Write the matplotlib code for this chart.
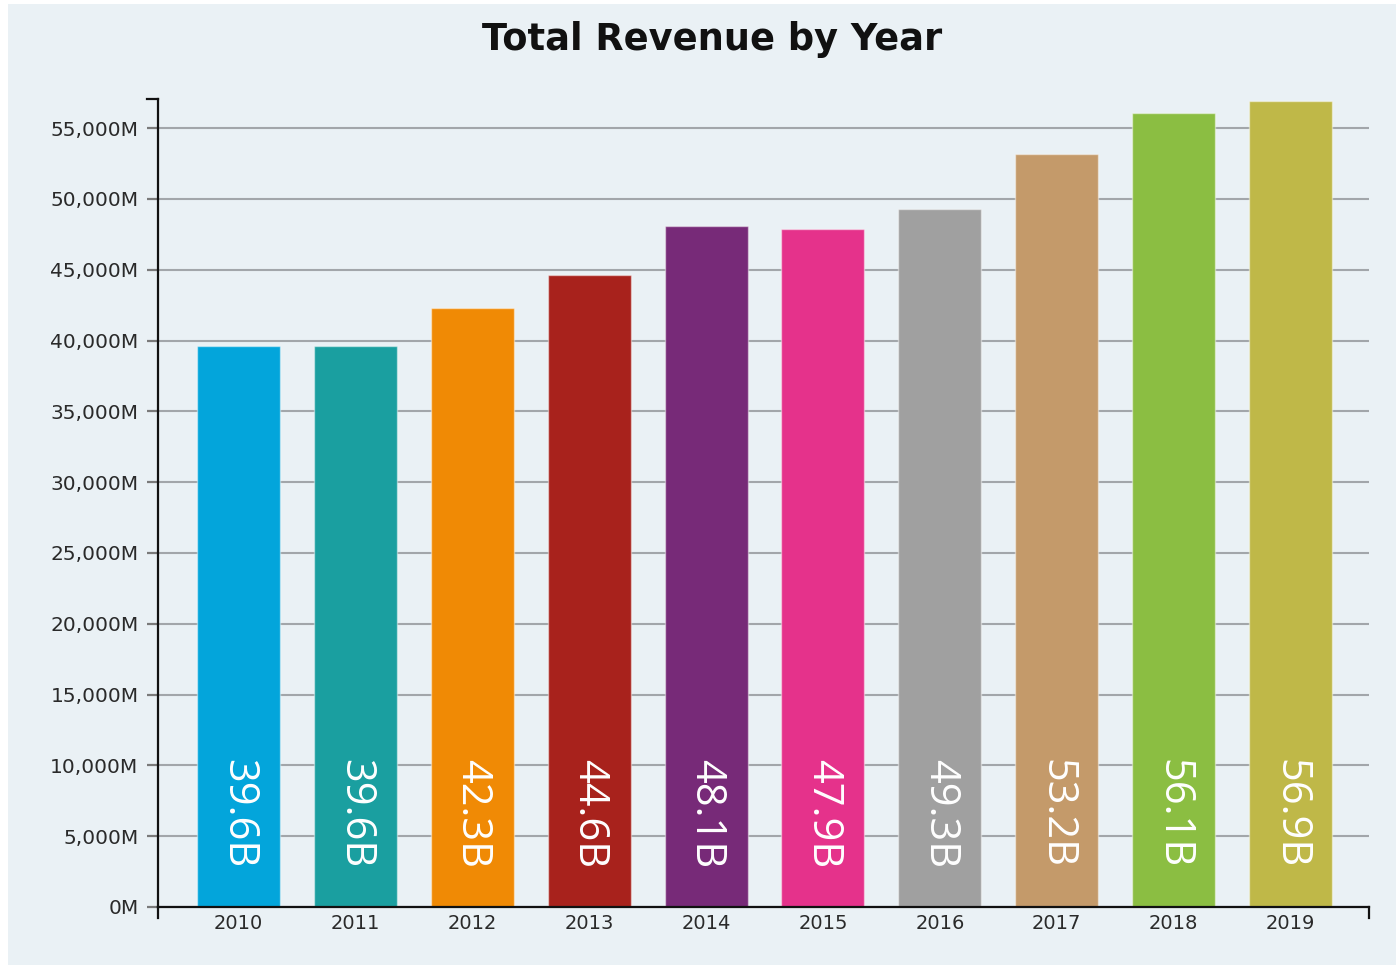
import matplotlib
matplotlib.use("Agg")
import matplotlib.pyplot as plt
from matplotlib.patches import Rectangle
from matplotlib.lines import Line2D

years = ["2010", "2011", "2012", "2013", "2014", "2015", "2016", "2017", "2018", "2019"]
revenue_m = [39600, 39600, 42300, 44600, 48100, 47900, 49300, 53200, 56100, 56900]
bar_labels = ["39.6B", "39.6B", "42.3B", "44.6B", "48.1B", "47.9B", "49.3B", "53.2B", "56.1B", "56.9B"]
colors = ["#03A5DB", "#1A9FA0", "#F08A05", "#A8221C", "#772A78",
          "#E5328B", "#A0A0A0", "#C49A6A", "#8BBE42", "#BFB848"]
yticks = [0, 5000, 10000, 15000, 20000, 25000, 30000, 35000, 40000, 45000, 50000, 55000]
ytick_labels = ["0M", "5,000M", "10,000M", "15,000M", "20,000M", "25,000M", "30,000M",
                "35,000M", "40,000M", "45,000M", "50,000M", "55,000M"]

W, H = 1396, 965
fig = plt.figure(figsize=(W / 100, H / 100), dpi=100, facecolor="white")
panel_color = "#EAF1F5"
fig.patches.append(Rectangle((8 / W, 0), 1 - 8 / W, 1 - 4 / H, transform=fig.transFigure,
                             facecolor=panel_color, edgecolor="none", zorder=-10))

left, right, bottom, top = 158, 1369, 907, 99
ax = fig.add_axes([left / W, 1 - bottom / H, (right - left) / W, (bottom - top) / H])
ax.set_facecolor("none")

x = list(range(len(years)))
ax.bar(x, revenue_m, width=0.71, color=colors, edgecolor=(1, 1, 1, 0.45), linewidth=1, zorder=2)

for xi, lab in zip(x, bar_labels):
    ax.text(xi, 6600, lab, rotation=-90, ha="center", va="center", color="white",
            fontsize=30, family="Open Sans", fontweight="normal", zorder=3)

ax.set_xlim(-0.69, 9.672)
ax.set_ylim(0, 57060)
ax.set_yticks(yticks)
ax.set_yticklabels(ytick_labels)
ax.set_xticks(x)
ax.set_xticklabels(years)

ax.grid(axis="y", color="#A2A6AA", linewidth=1.5, zorder=0)
ax.set_axisbelow(True)
ax.tick_params(axis="y", length=8, width=1.6, color="#7a7a7a", pad=6,
               labelsize=14.5, labelcolor="#2a2a2a")
ax.tick_params(axis="x", length=0, pad=5, labelsize=14, labelcolor="#2a2a2a")

for s in ["top", "right"]:
    ax.spines[s].set_visible(False)
for s in ["left", "bottom"]:
    ax.spines[s].set_color("#111111")
    ax.spines[s].set_linewidth(1.6)

# outer ticks (d3 style)
dx = 11 / (right - left)
dy = 11 / (bottom - top)
kw = dict(transform=ax.transAxes, color="#111111", linewidth=1.6, clip_on=False)
ax.add_line(Line2D([-dx, 0], [1, 1], **kw))
ax.add_line(Line2D([0, 0], [0, -dy], **kw))
ax.add_line(Line2D([1, 1], [0, -dy], **kw))

fig.text(712 / W, 1 - 50 / H, "Total Revenue by Year", ha="center", va="baseline",
         fontsize=26.5, fontweight="bold", color="#111111")

fig.savefig("out.png", dpi=100, facecolor="white")
